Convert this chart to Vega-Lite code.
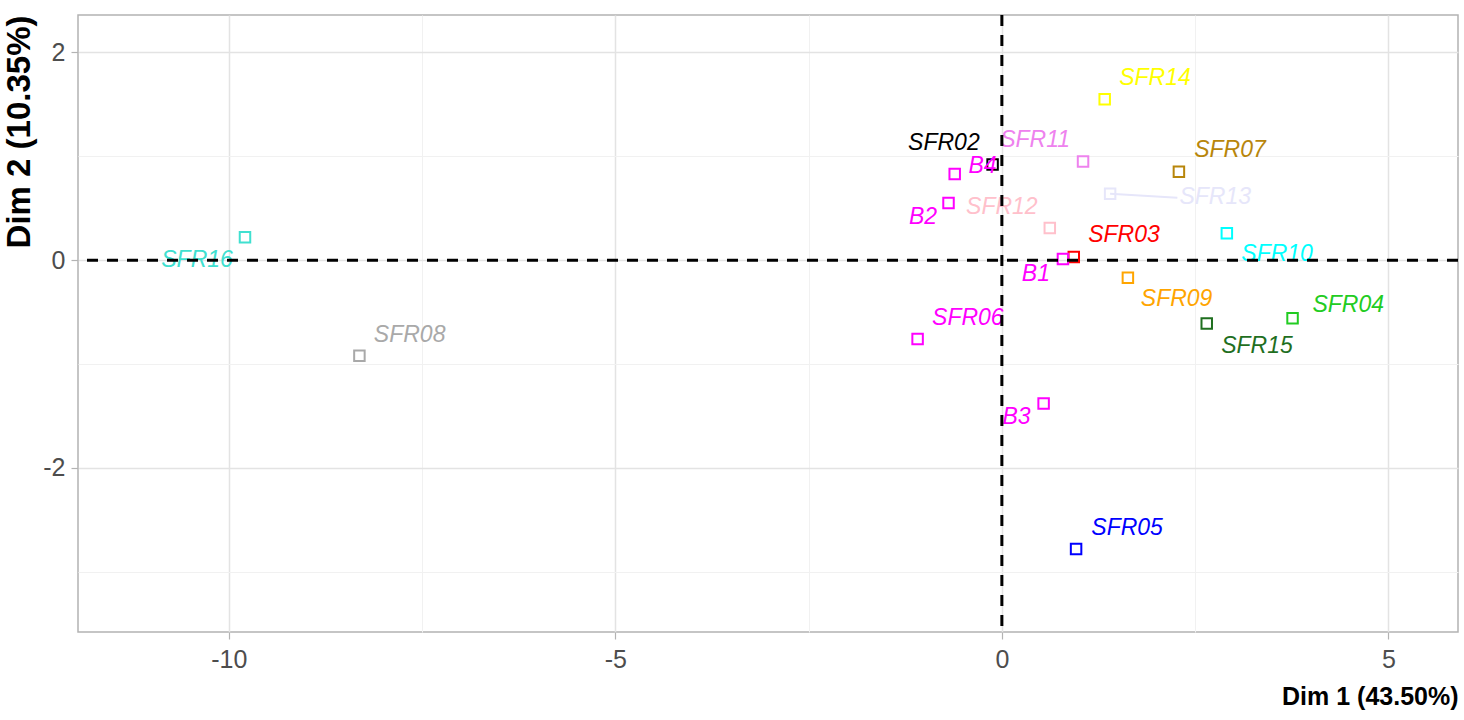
{
  "$schema": "https://vega.github.io/schema/vega-lite/v6.json",
  "width": 1380,
  "height": 617,
  "autosize": {"type": "none"},
  "padding": {"left": 78, "top": 15, "right": 6, "bottom": 88},
  "background": "white",
  "config": {
    "view": {"stroke": "#b3b3b3", "strokeWidth": 1.5},
    "axis": {
      "labelFont": "Liberation Sans",
      "titleFont": "Liberation Sans",
      "labelColor": "#4d4d4d",
      "labelFontSize": 25,
      "tickColor": "#b3b3b3",
      "tickSize": 7,
      "tickWidth": 1.2,
      "domain": false,
      "titleFontWeight": "bold",
      "titleColor": "#000000",
      "titleFontSize": 25
    }
  },
  "datasets": {
    "ind": [
      {"name": "SFR16", "x": -9.79, "y": 0.22, "lx": -10.41, "ly": 0.0},
      {"name": "SFR08", "x": -8.31, "y": -0.92, "lx": -7.66, "ly": -0.72},
      {"name": "SFR02", "x": -0.12, "y": 0.92, "lx": -0.75, "ly": 1.13},
      {"name": "B4", "x": -0.61, "y": 0.83, "lx": -0.25, "ly": 0.91},
      {"name": "B2", "x": -0.69, "y": 0.55, "lx": -1.02, "ly": 0.42},
      {"name": "SFR11", "x": 1.05, "y": 0.95, "lx": 0.43, "ly": 1.16},
      {"name": "SFR14", "x": 1.33, "y": 1.55, "lx": 1.98, "ly": 1.75},
      {"name": "SFR07", "x": 2.29, "y": 0.85, "lx": 2.95, "ly": 1.06},
      {"name": "SFR13", "x": 1.40, "y": 0.64, "lx": 2.76, "ly": 0.61},
      {"name": "SFR12", "x": 0.62, "y": 0.31, "lx": 0.0, "ly": 0.51},
      {"name": "SFR03", "x": 0.93, "y": 0.03, "lx": 1.58, "ly": 0.24},
      {"name": "B1", "x": 0.79, "y": 0.01, "lx": 0.44, "ly": -0.13},
      {"name": "SFR10", "x": 2.91, "y": 0.26, "lx": 3.56, "ly": 0.06},
      {"name": "SFR09", "x": 1.63, "y": -0.17, "lx": 2.26, "ly": -0.37},
      {"name": "SFR06", "x": -1.09, "y": -0.76, "lx": -0.44, "ly": -0.56},
      {"name": "SFR15", "x": 2.65, "y": -0.61, "lx": 3.30, "ly": -0.83},
      {"name": "SFR04", "x": 3.76, "y": -0.56, "lx": 4.48, "ly": -0.43},
      {"name": "B3", "x": 0.54, "y": -1.38, "lx": 0.19, "ly": -1.51},
      {"name": "SFR05", "x": 0.96, "y": -2.78, "lx": 1.62, "ly": -2.58}
    ],
    "segments": [
      {"name": "SFR13", "x": 1.40, "y": 0.64, "ex": 2.27, "ey": 0.60}
    ],
    "origin": [{"zero": 0}]
  },
  "layer": [
    {
      "data": {"name": "ind"},
      "mark": {"type": "point", "shape": "square", "filled": false, "size": 110, "strokeWidth": 2, "opacity": 1},
      "encoding": {
        "x": {
          "field": "x", "type": "quantitative",
          "scale": {"domain": [-11.95, 5.9], "nice": false, "zero": false},
          "axis": {
            "values": [-10, -7.5, -5, -2.5, 0, 2.5, 5],
            "labelExpr": "datum.value % 5 === 0 ? toString(datum.value) : ''",
            "labelPadding": 8,
            "title": "Dim 1 (43.50%)",
            "titleAnchor": "end",
            "titlePadding": 12,
            "grid": true,
            "gridColor": {"condition": {"test": "datum.value % 5 === 0", "value": "#e3e3e3"}, "value": "#f1f1f1"},
            "gridWidth": {"condition": {"test": "datum.value % 5 === 0", "value": 1.5}, "value": 1},
            "tickOpacity": {"condition": {"test": "datum.value % 5 === 0", "value": 1}, "value": 0}
          }
        },
        "y": {
          "field": "y", "type": "quantitative",
          "scale": {"domain": [-3.58, 2.36], "nice": false, "zero": false},
          "axis": {
            "values": [-3, -2, -1, 0, 1, 2],
            "labelExpr": "datum.value % 2 === 0 ? toString(datum.value) : ''",
            "labelPadding": 6,
            "title": "Dim 2 (10.35%)",
            "titleAnchor": "end",
            "titlePadding": 6,
            "titleFontSize": 33,
            "grid": true,
            "gridColor": {"condition": {"test": "datum.value % 2 === 0", "value": "#e3e3e3"}, "value": "#f1f1f1"},
            "gridWidth": {"condition": {"test": "datum.value % 2 === 0", "value": 1.5}, "value": 1},
            "tickOpacity": {"condition": {"test": "datum.value % 2 === 0", "value": 1}, "value": 0}
          }
        },
        "color": {
          "field": "name", "type": "nominal", "legend": null,
          "scale": {
            "domain": ["SFR16", "SFR08", "SFR02", "B4", "B2", "SFR11", "SFR14", "SFR07", "SFR13", "SFR12", "SFR03", "B1", "SFR10", "SFR09", "SFR06", "SFR15", "SFR04", "B3", "SFR05"],
            "range": ["#40e0d0", "#a9a9a9", "#000000", "#ff00ff", "#ff00ff", "#ee82ee", "#ffff00", "#b8860b", "#e6e6fa", "#ffc0cb", "#ff0000", "#ff00ff", "#00ffff", "#ffa500", "#ff00ff", "#1f6f1f", "#22cc22", "#ff00ff", "#0000ff"]
          }
        }
      }
    },
    {
      "data": {"name": "segments"},
      "mark": {"type": "rule", "strokeWidth": 2, "color": "#e6e6fa"},
      "encoding": {
        "x": {"field": "x", "type": "quantitative"},
        "y": {"field": "y", "type": "quantitative"},
        "x2": {"field": "ex"},
        "y2": {"field": "ey"}
      }
    },
    {
      "data": {"name": "ind"},
      "mark": {"type": "text", "font": "Liberation Sans", "fontStyle": "italic", "fontSize": 23, "align": "center", "baseline": "middle"},
      "encoding": {
        "x": {"field": "lx", "type": "quantitative"},
        "y": {"field": "ly", "type": "quantitative"},
        "text": {"field": "name"},
        "color": {"field": "name", "type": "nominal", "legend": null}
      }
    },
    {
      "data": {"name": "origin"},
      "mark": {"type": "rule", "color": "#000000", "strokeWidth": 3, "strokeDash": [11, 9]},
      "encoding": {"x": {"field": "zero", "type": "quantitative"}}
    },
    {
      "data": {"name": "origin"},
      "mark": {"type": "rule", "color": "#000000", "strokeWidth": 3, "strokeDash": [11, 9]},
      "encoding": {"y": {"field": "zero", "type": "quantitative"}}
    }
  ]
}
